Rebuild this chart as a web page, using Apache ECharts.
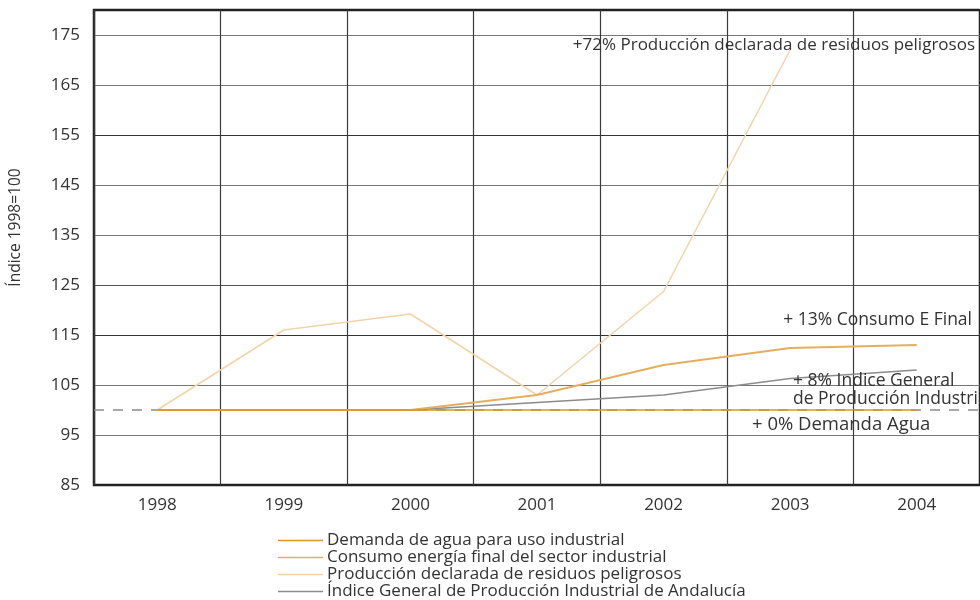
<!DOCTYPE html>
<html>
<head>
<meta charset="utf-8">
<script src="https://cdn.jsdelivr.net/npm/echarts@6/dist/echarts.min.js"></script>
<style>
  html, body { margin: 0; padding: 0; background: #fff; }
  #chart { width: 980px; height: 600px; }
</style>
</head>
<body>
<div id="chart"></div>
<script>
// Years on the horizontal axis
const years = ['1998', '1999', '2000', '2001', '2002', '2003', '2004'];

// Index values (1998 = 100)
const demandaAgua = [100, 100, 100, 100, 100, 100, 100];
const consumoEnergia = [100, 100, 100, 103, 109, 112.4, 113];
const residuosPeligrosos = [100, 116, 119.2, 103, 123.7, 172, null];
const indiceGeneral = [100, 100, 100, 101.5, 103, 106.3, 108];

// Series names shown in the legend
const seriesNames = [
  'Demanda de agua para uso industrial',
  'Consumo energía final del sector industrial',
  'Producción declarada de residuos peligrosos',
  'Índice General de Producción Industrial de Andalucía'
];

// Notes placed next to the line ends
const notes = [
  '+72% Producción declarada de residuos peligrosos',
  '+ 13% Consumo E Final',
  '+ 8% Indice General\nde Producción Industrial',
  '+ 0% Demanda Agua'
];

const FONT = '"Open Sans", "Noto Sans", sans-serif';
const TXT = '#333';
const NOTE_FONT = '17.5px ' + FONT;

const chart = echarts.init(document.getElementById('chart'), null, { renderer: 'canvas' });

const lineSeries = (name, data, color, width, z) => ({
  name, type: 'line', data, symbol: 'none', z,
  lineStyle: { color, width }, itemStyle: { color },
  emphasis: { disabled: true }, animation: false
});

const demanda = lineSeries(seriesNames[0], demandaAgua, '#D9971F', 1.5, 6);
demanda.markLine = {
  silent: true, symbol: 'none', animation: false, z: 1,
  label: { show: false },
  lineStyle: { color: '#8a8a8a', type: [10, 9], width: 1.5 },
  data: [{ yAxis: 100 }]
};

chart.setOption({
  animation: false,
  backgroundColor: '#fff',
  textStyle: { fontFamily: FONT },
  grid: {
    left: 94, right: -3, top: 10, bottom: 115,
    show: true, borderColor: '#222', borderWidth: 2.5
  },
  legend: {
    orient: 'vertical', left: 278, top: 532, padding: 0,
    itemGap: 0, itemWidth: 45, itemHeight: 1.5, icon: 'rect',
    selectedMode: false,
    textStyle: { fontFamily: FONT, fontSize: 17, color: TXT, lineHeight: 16, padding: [0, 0, 0, -1] },
    data: seriesNames
  },
  xAxis: {
    type: 'category', data: years, boundaryGap: true,
    axisLine: { show: false }, axisTick: { show: false },
    axisLabel: { color: TXT, fontSize: 17, fontFamily: FONT, margin: 12 },
    splitLine: { show: true, lineStyle: { color: '#3a3a3a', width: 1.2 } }
  },
  yAxis: {
    type: 'value', min: 85, max: 180, interval: 10,
    name: 'Índice 1998=100', nameLocation: 'middle', nameGap: 70,
    nameTextStyle: { color: TXT, fontSize: 15.5, fontFamily: FONT, padding: [0, 0, 0, 40] },
    axisLine: { show: false }, axisTick: { show: false },
    axisLabel: { color: TXT, fontSize: 17, fontFamily: FONT, margin: 14, showMaxLabel: false },
    splitLine: {
      show: true,
      lineStyle: {
        color: ['#222', '#777', '#777', '#333', '#555', '#777', '#777', '#333', '#777', '#777', '#222'],
        width: 1.2
      }
    }
  },
  series: [
    lineSeries(seriesNames[3], indiceGeneral, '#8C8C8C', 1.5, 3),
    lineSeries(seriesNames[2], residuosPeligrosos, '#F4D3A8', 1.5, 4),
    lineSeries(seriesNames[1], consumoEnergia, '#E5AE5F', 1.8, 5),
    demanda
  ],
  graphic: [
    { type: 'text', right: 5, top: 37, z: 100,
      style: { text: notes[0], fill: TXT, font: '17px ' + FONT } },
    { type: 'text', right: 8, top: 311, z: 100,
      style: { text: notes[1], fill: TXT, font: NOTE_FONT } },
    { type: 'text', left: 793, top: 372, z: 100,
      style: { text: notes[2], fill: TXT, font: NOTE_FONT, lineHeight: 18 } },
    { type: 'text', left: 752, top: 415, z: 100,
      style: { text: notes[3], fill: TXT, font: '18.5px ' + FONT } }
  ]
});
</script>
</body>
</html>
